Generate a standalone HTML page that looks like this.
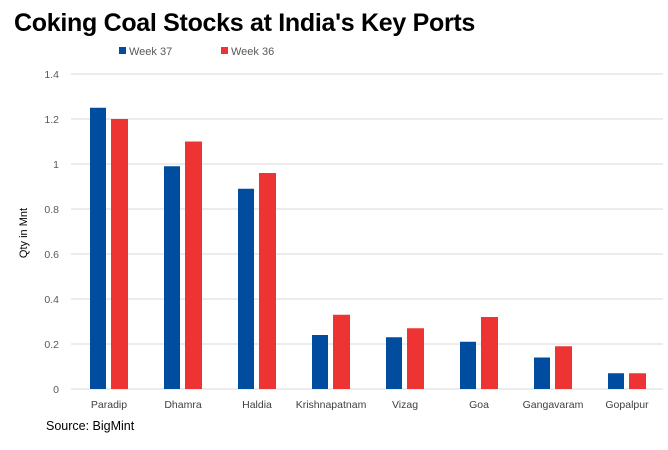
<!DOCTYPE html>
<html><head><meta charset="utf-8"><style>
body{margin:0;background:#fff;width:668px;height:445px;overflow:hidden;font-family:"Liberation Sans",sans-serif}
</style></head><body>
<svg width="668" height="445" xmlns="http://www.w3.org/2000/svg">
<text x="14" y="31" font-size="25" font-weight="bold" fill="#000" style="letter-spacing:-0.3px">Coking Coal Stocks at India's Key Ports</text>
<g>
<rect x="119" y="47" width="7" height="7" fill="#004c9e"/>
<text x="129" y="55" font-size="11" fill="#595959">Week 37</text>
<rect x="221" y="47" width="7" height="7" fill="#ee3432"/>
<text x="231" y="55" font-size="11" fill="#595959">Week 36</text>
</g>
<text transform="translate(27,233) rotate(-90)" text-anchor="middle" font-size="11" fill="#000">Qty in Mnt</text>
<g id="grid"></g><g id="bars"></g><g id="labels"></g>
<text x="46" y="430" font-size="12.5" fill="#000">Source: BigMint</text>
</svg>
<script>
const categories=["Paradip","Dhamra","Haldia","Krishnapatnam","Vizag","Goa","Gangavaram","Gopalpur"];
const week37=[1.25,0.99,0.89,0.24,0.23,0.21,0.14,0.07];
const week36=[1.2,1.1,0.96,0.33,0.27,0.32,0.19,0.07];
const ticks=[0,0.2,0.4,0.6,0.8,1,1.2,1.4];
const tickLabels=["0","0.2","0.4","0.6","0.8","1","1.2","1.4"];
const NS="http://www.w3.org/2000/svg";
const x0=71,x1=663,yb=389,yt=74,ymax=1.4;
const band=(x1-x0)/categories.length;
const y=v=>yb-(v/ymax)*(yb-yt);
const xb=i=>x0+i*band;
function mk(tag,a,p){const e=document.createElementNS(NS,tag);for(const k in a)e.setAttribute(k,a[k]);p.appendChild(e);return e;}
const g=document.getElementById('grid'),b=document.getElementById('bars'),l=document.getElementById('labels');
ticks.forEach((t,i)=>{
 const ln=mk('line',{x1:x0,x2:x1,y1:y(t),y2:y(t),stroke:'#d9d9d9','stroke-width':1},g);
 
 
 const tx=mk('text',{x:59,y:y(t)+4,'text-anchor':'end','font-size':10.5,fill:'#595959'},g);
 tx.textContent=tickLabels[i];
 
 
});
categories.forEach((c,i)=>{
 const r1=mk('rect',{x:xb(i)+19,y:y(week37[i]),width:16,height:yb-y(week37[i]),fill:'#004c9e'},b);
 
 
 const r2=mk('rect',{x:xb(i)+40,y:y(week36[i]),width:17,height:yb-y(week36[i]),fill:'#ee3432'},b);
 
 
 const tx=mk('text',{x:xb(i)+band/2+1,y:408,'text-anchor':'middle','font-size':10.5,fill:'#404040'},l);
 tx.textContent=c;
 
 
});
</script>
</body></html>
